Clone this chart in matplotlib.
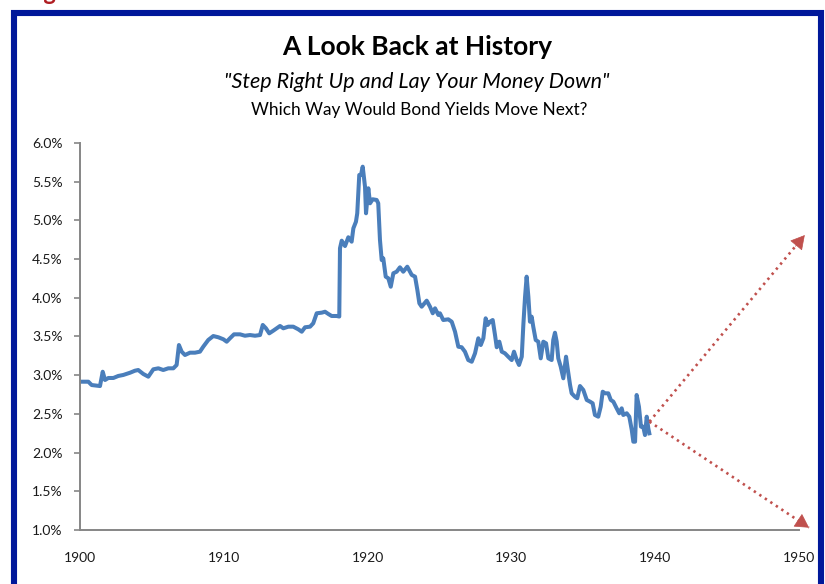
import matplotlib
matplotlib.use("Agg")
import matplotlib.pyplot as plt
from matplotlib.patches import Rectangle

# Long-term bond yield history (%), by fractional year
years = [
    1900.00, 1900.58, 1900.81, 1901.39, 1901.58, 1901.74, 1901.97, 1902.32, 1902.66, 1903.01,
    1903.48, 1903.82, 1904.05, 1904.40, 1904.75, 1905.10, 1905.45, 1905.79, 1906.14, 1906.49,
    1906.72, 1906.88, 1907.07, 1907.30, 1907.65, 1908.00, 1908.34, 1908.57, 1908.92, 1909.27,
    1909.62, 1909.97, 1910.20, 1910.43, 1910.71, 1911.13, 1911.47, 1911.82, 1912.17, 1912.52,
    1912.71, 1912.93, 1913.16, 1913.44, 1913.68, 1913.91, 1914.14, 1914.49, 1914.83, 1915.18,
    1915.42, 1915.65, 1916.00, 1916.22, 1916.46, 1916.81, 1917.04, 1917.27, 1917.50, 1917.85,
    1918.03, 1918.08, 1918.20, 1918.43, 1918.66, 1918.89, 1919.01, 1919.19, 1919.28, 1919.42,
    1919.54, 1919.66, 1919.82, 1919.89, 1920.05, 1920.17, 1920.35, 1920.63, 1920.74, 1920.86,
    1920.98, 1921.09, 1921.26, 1921.44, 1921.61, 1921.79, 1922.02, 1922.25, 1922.48, 1922.76,
    1923.07, 1923.30, 1923.46, 1923.60, 1923.76, 1924.11, 1924.34, 1924.53, 1924.69, 1924.92,
    1925.03, 1925.26, 1925.61, 1925.85, 1926.08, 1926.31, 1926.54, 1926.77, 1927.00, 1927.24,
    1927.47, 1927.70, 1927.87, 1928.05, 1928.21, 1928.35, 1928.51, 1928.70, 1928.86, 1928.98,
    1929.16, 1929.33, 1929.55, 1929.78, 1930.02, 1930.18, 1930.37, 1930.53, 1930.72, 1930.83,
    1930.95, 1931.06, 1931.18, 1931.29, 1931.41, 1931.52, 1931.69, 1931.87, 1932.04, 1932.22,
    1932.41, 1932.57, 1932.80, 1932.91, 1933.03, 1933.15, 1933.26, 1933.43, 1933.61, 1933.80,
    1933.91, 1934.08, 1934.19, 1934.42, 1934.58, 1934.77, 1935.00, 1935.24, 1935.47, 1935.65,
    1935.81, 1936.04, 1936.21, 1936.35, 1936.51, 1936.74, 1936.91, 1937.09, 1937.32, 1937.50,
    1937.67, 1937.78, 1938.02, 1938.20, 1938.37, 1938.48, 1938.60, 1938.71, 1938.87, 1939.01,
    1939.17, 1939.29, 1939.41, 1939.52, 1939.59,
]
yields = [
    2.916, 2.916, 2.873, 2.860, 3.045, 2.938, 2.964, 2.964, 2.990, 3.003,
    3.032, 3.058, 3.067, 3.016, 2.981, 3.076, 3.089, 3.067, 3.089, 3.089,
    3.132, 3.390, 3.304, 3.261, 3.291, 3.291, 3.304, 3.368, 3.455, 3.506,
    3.490, 3.464, 3.433, 3.477, 3.528, 3.528, 3.510, 3.519, 3.510, 3.519,
    3.649, 3.606, 3.541, 3.575, 3.606, 3.636, 3.606, 3.627, 3.627, 3.593,
    3.562, 3.619, 3.627, 3.671, 3.800, 3.808, 3.820, 3.791, 3.765, 3.765,
    3.758, 4.640, 4.738, 4.669, 4.782, 4.725, 4.898, 4.983, 5.092, 5.587,
    5.587, 5.694, 5.435, 5.092, 5.415, 5.221, 5.273, 5.264, 5.221, 4.747,
    4.488, 4.510, 4.273, 4.252, 4.143, 4.317, 4.337, 4.394, 4.337, 4.402,
    4.295, 4.273, 4.101, 3.929, 3.885, 3.963, 3.885, 3.800, 3.864, 3.778,
    3.800, 3.713, 3.722, 3.691, 3.562, 3.368, 3.361, 3.304, 3.196, 3.174,
    3.283, 3.477, 3.390, 3.477, 3.735, 3.649, 3.691, 3.713, 3.519, 3.361,
    3.433, 3.304, 3.283, 3.239, 3.196, 3.304, 3.196, 3.132, 3.239, 3.649,
    4.014, 4.273, 4.014, 3.691, 3.756, 3.627, 3.455, 3.433, 3.218, 3.433,
    3.412, 3.218, 3.196, 3.455, 3.549, 3.433, 3.218, 3.110, 2.960, 3.239,
    3.089, 2.873, 2.766, 2.722, 2.702, 2.860, 2.809, 2.680, 2.658, 2.637,
    2.486, 2.464, 2.593, 2.787, 2.766, 2.766, 2.680, 2.658, 2.572, 2.508,
    2.572, 2.486, 2.508, 2.464, 2.292, 2.141, 2.141, 2.744, 2.593, 2.335,
    2.335, 2.227, 2.464, 2.314, 2.249,
]

# Two hypothetical paths: (start year, start %) -> (end year, end %)
path_start = (1939.6, 2.40)
path_up_end = (1950.4, 4.81)
path_down_end = (1950.7, 1.03)

x_ticks = [1900, 1910, 1920, 1930, 1940, 1950]
y_ticks = [1.0, 1.5, 2.0, 2.5, 3.0, 3.5, 4.0, 4.5, 5.0, 5.5, 6.0]

title = "A Look Back at History"
subtitle = "\"Step Right Up and Lay Your Money Down\""
question = "Which Way Would Bond Yields Move Next?"

FONT = "Lato"
LINE_BLUE = "#4A7EBB"
ARROW_RED = "#C0504D"
FRAME_BLUE = "#00189A"
AXIS_GRAY = "#868686"

fig = plt.figure(figsize=(8.25, 5.84), dpi=100)
fig.patch.set_facecolor("white")

ax = fig.add_axes([80 / 825, 1 - 530 / 584, (799 - 80) / 825, (530 - 143) / 584])
ax.plot(years, yields, color=LINE_BLUE, lw=2.9, solid_joinstyle="round")

# Dotted projection lines with solid arrowheads
for end in (path_up_end, path_down_end):
    ax.plot([path_start[0], end[0]], [path_start[1], end[1]], color=ARROW_RED,
            lw=1.9, linestyle=(0, (0.9, 1.6)), clip_on=False, zorder=3)
    back = (end[0] - 0.06 * (end[0] - path_start[0]), end[1] - 0.06 * (end[1] - path_start[1]))
    ax.annotate("", xy=end, xytext=back, annotation_clip=False,
                arrowprops=dict(arrowstyle="-|>,head_length=0.75,head_width=0.42",
                                color=ARROW_RED, lw=0.5, mutation_scale=12,
                                shrinkA=0, shrinkB=0))

ax.set_xlim(1900, 1950)
ax.set_ylim(1.0, 6.0)
ax.set_xticks(x_ticks)
ax.set_yticks(y_ticks)
ax.set_yticklabels([f"{v:.1f}%" for v in y_ticks])

for s in ("top", "right"):
    ax.spines[s].set_visible(False)
for s in ("left", "bottom"):
    ax.spines[s].set_color(AXIS_GRAY)
    ax.spines[s].set_linewidth(1.4)

ax.tick_params(axis="y", length=4, width=1.2, color=AXIS_GRAY, pad=8.5,
               labelsize=10, labelcolor="#1a1a1a")
ax.tick_params(axis="x", length=0, pad=16, labelsize=10, labelcolor="#1a1a1a")
for lbl in ax.get_xticklabels() + ax.get_yticklabels():
    lbl.set_fontfamily(FONT)

# Titles
fig.text(417 / 825, 1 - 47 / 584, title, ha="center", va="center",
         fontsize=19, fontweight="bold", fontfamily=FONT, color="black")
fig.text(417 / 825, 1 - 82 / 584, subtitle, ha="center", va="center",
         fontsize=15.5, fontstyle="italic", fontfamily=FONT, color="black")
fig.text(419 / 825, 1 - 110 / 584, question, ha="center", va="center",
         fontsize=12.4, fontfamily=FONT, color="black")

# Figure caption sitting above the frame
fig.text(24 / 825, 1 + 0.5 / 584, "Figure 2", ha="left", va="baseline",
         fontsize=17, fontweight="bold", fontfamily=FONT, color="#B01E23")

# Blue frame around the chart
frame = Rectangle((14 / 825, -30 / 584), (820.5 - 14) / 825, (584 + 30 - 13) / 584,
                  transform=fig.transFigure, fill=False, edgecolor=FRAME_BLUE,
                  linewidth=4.4, clip_on=False)
fig.add_artist(frame)

fig.savefig("out.png", dpi=100, facecolor="white")
